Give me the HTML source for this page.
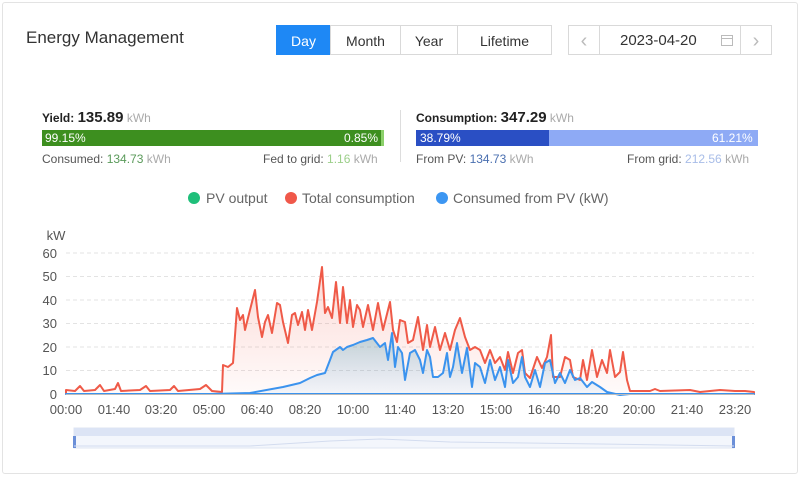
<!DOCTYPE html><html><head><style>
body{margin:0;width:800px;height:477px;background:#fff;font-family:"Liberation Sans",sans-serif;position:relative;overflow:hidden}
.card{position:absolute;left:2px;top:2px;width:794px;height:470px;border:1px solid #e3e3e3;border-radius:3px}
.a{position:absolute;white-space:nowrap}
.tab{position:absolute;top:25px;height:30px;line-height:30px;text-align:center;font-size:14px;color:#333;border:1px solid #d9d9d9;box-sizing:border-box}
</style></head><body>
<div class="card"></div>
<div class="a" style="left:26px;top:28px;font-size:17px;color:#333">Energy Management</div>
<div class="tab" style="left:276px;width:55px;background:#1e88f5;color:#fff;border-color:#1e88f5">Day</div>
<div class="tab" style="left:330px;width:71px">Month</div>
<div class="tab" style="left:400px;width:58px">Year</div>
<div class="tab" style="left:457px;width:95px">Lifetime</div>
<div class="tab" style="left:568px;width:32px;color:#bbb;font-size:20px">&#8249;</div>
<div class="tab" style="left:599px;width:142px;border-left:none;border-right:none;text-align:left;padding-left:21px;font-size:15px">2023-04-20</div>
<svg class="a" style="left:720px;top:33px" width="14" height="14"><rect x="1.5" y="2.5" width="11" height="10" fill="none" stroke="#bbb"/><line x1="1.5" y1="5.5" x2="12.5" y2="5.5" stroke="#bbb"/></svg>
<div class="tab" style="left:740px;width:32px;color:#bbb;font-size:20px">&#8250;</div>

<div class="a" style="left:42px;top:109px;font-size:12px;color:#222"><b>Yield:</b> <b style="font-size:15px">135.89</b> <span style="color:#aaa">kWh</span></div>
<div class="a" style="left:42px;top:130px;width:342px;height:16px;background:#3d8f1f"></div>
<div class="a" style="left:381px;top:130px;width:3px;height:16px;background:#8bd06a"></div>
<div class="a" style="left:45px;top:131px;font-size:12px;color:#fff">99.15%</div>
<div class="a" style="left:344px;top:131px;font-size:12px;color:#fff">0.85%</div>
<div class="a" style="left:42px;top:152px;font-size:12px;color:#555">Consumed: <span style="color:#5a9a5a">134.73</span> <span style="color:#aaa">kWh</span></div>
<div class="a" style="left:263px;top:152px;font-size:12px;color:#555">Fed to grid: <span style="color:#9ccf8a">1.16</span> <span style="color:#aaa">kWh</span></div>
<div class="a" style="left:400px;top:110px;width:1px;height:52px;background:#ddd"></div>
<div class="a" style="left:416px;top:109px;font-size:12px;color:#222"><b>Consumption:</b> <b style="font-size:15px">347.29</b> <span style="color:#aaa">kWh</span></div>
<div class="a" style="left:416px;top:130px;width:133px;height:16px;background:#2a4fc4"></div>
<div class="a" style="left:549px;top:130px;width:209px;height:16px;background:#8eaaf5"></div>
<div class="a" style="left:420px;top:131px;font-size:12px;color:#fff">38.79%</div>
<div class="a" style="left:712px;top:131px;font-size:12px;color:#fff">61.21%</div>
<div class="a" style="left:416px;top:152px;font-size:12px;color:#555">From PV: <span style="color:#4a6fb0">134.73</span> <span style="color:#aaa">kWh</span></div>
<div class="a" style="left:627px;top:152px;font-size:12px;color:#555">From grid: <span style="color:#a8bde8">212.56</span> <span style="color:#aaa">kWh</span></div>

<svg class="a" style="left:0;top:0" width="800" height="477" font-family="Liberation Sans,sans-serif">
<defs>
<linearGradient id="gr" x1="0" y1="0" x2="0" y2="1"><stop offset="0" stop-color="#f26a5a" stop-opacity=".25"/><stop offset="1" stop-color="#f26a5a" stop-opacity=".03"/></linearGradient>
<linearGradient id="gb" x1="0" y1="0" x2="0" y2="1"><stop offset="0" stop-color="#2f8f9a" stop-opacity=".3"/><stop offset="1" stop-color="#3a8fe0" stop-opacity=".05"/></linearGradient>
</defs>
<g font-size="14" fill="#666">
<circle cx="194" cy="198" r="6" fill="#1fbf7a"/><text x="206" y="203">PV output</text>
<circle cx="291" cy="198" r="6" fill="#f0584a"/><text x="302" y="203">Total consumption</text>
<circle cx="442" cy="198" r="6" fill="#3c96f2"/><text x="453" y="203">Consumed from PV (kW)</text>
</g>
<g stroke="#e3e3e3" stroke-dasharray="4,3">
<line x1="66" y1="253" x2="754" y2="253"/><line x1="66" y1="276.5" x2="754" y2="276.5"/><line x1="66" y1="300" x2="754" y2="300"/><line x1="66" y1="323.5" x2="754" y2="323.5"/><line x1="66" y1="347" x2="754" y2="347"/><line x1="66" y1="370.5" x2="754" y2="370.5"/>
</g>
<g font-size="13" fill="#555" text-anchor="end">
<text x="56" y="240" text-anchor="middle">kW</text>
<text x="57" y="258">60</text><text x="57" y="281">50</text><text x="57" y="305">40</text><text x="57" y="328">30</text><text x="57" y="352">20</text><text x="57" y="375">10</text><text x="57" y="399">0</text>
</g>
<path fill="url(#gr)" stroke="#ef5a48" stroke-width="2" stroke-linejoin="round" d="M66,390 L75,391 80,386 84,391 95,390 100,385 104,391 115,389 118,383 121,391 140,390 146,386 150,391 170,390 174,386 178,391 200,389 206,385 212,391 222,392 223,365 228,367 233,363 237,308 240,320 243,315 245,330 250,310 255,290 258,317 262,337 265,322 268,315 272,333 277,303 280,305 283,322 288,343 292,315 295,313 298,325 302,312 305,330 308,310 312,330 317,302 322,267 325,313 328,307 332,318 336,282 340,323 343,287 347,323 350,300 353,327 357,305 360,310 363,327 368,305 373,330 378,303 383,330 390,302 393,330 397,342 400,320 405,322 408,343 413,340 418,317 423,350 427,325 430,347 435,327 440,350 445,333 450,350 455,330 460,318 465,337 470,350 475,347 480,350 485,363 490,350 495,363 500,357 505,370 508,352 513,373 518,353 522,350 525,373 530,378 537,357 542,368 547,357 551,335 553,377 560,377 565,357 570,360 573,377 580,380 583,360 587,380 592,350 597,377 602,360 607,373 610,350 615,377 620,372 623,352 627,380 630,391 650,391 655,389 660,391 690,390 700,392 720,390 735,391 745,391 754,392 L754,394 L66,394Z"/>
<path fill="url(#gb)" stroke="#3b93ee" stroke-width="2" stroke-linejoin="round" d="M66,394 L210,394 250,393 283,387 300,383 310,378 317,375 325,373 330,360 333,352 340,347 343,350 347,347 353,345 360,342 367,340 373,338 380,347 385,343 388,360 392,333 395,367 398,347 402,353 405,380 410,353 415,350 420,360 423,373 427,350 430,357 433,377 438,377 443,373 447,353 450,377 453,367 457,343 462,373 467,348 472,387 475,363 480,367 485,383 490,360 495,380 500,367 505,387 508,360 513,383 518,377 522,357 525,377 530,387 535,370 540,387 545,363 550,360 555,383 560,373 565,383 570,370 575,380 580,378 587,387 592,382 600,387 607,392 620,395 630,394 754,394 L754,394 L66,394Z"/>
<line x1="66" y1="394.5" x2="754" y2="394.5" stroke="#bbb"/>
<g font-size="13" fill="#555" text-anchor="middle">
<text x="66" y="414">00:00</text><text x="114" y="414">01:40</text><text x="161" y="414">03:20</text><text x="209" y="414">05:00</text><text x="257" y="414">06:40</text><text x="305" y="414">08:20</text><text x="353" y="414">10:00</text><text x="400" y="414">11:40</text><text x="448" y="414">13:20</text><text x="496" y="414">15:00</text><text x="544" y="414">16:40</text><text x="592" y="414">18:20</text><text x="639" y="414">20:00</text><text x="687" y="414">21:40</text><text x="735" y="414">23:20</text>
</g>
<rect x="74" y="428" width="660" height="20" fill="#f3f6fc" stroke="#dfe5f2"/>
<rect x="74" y="428" width="660" height="8" fill="#dce4f5"/>
<rect x="73" y="436" width="3" height="12" fill="#6b8fd8"/><rect x="732" y="436" width="3" height="12" fill="#6b8fd8"/>
<path d="M74,446 L250,446 330,441 380,439 450,442 600,444 734,446" fill="none" stroke="#d3dcef"/>
</svg>
</body></html>
